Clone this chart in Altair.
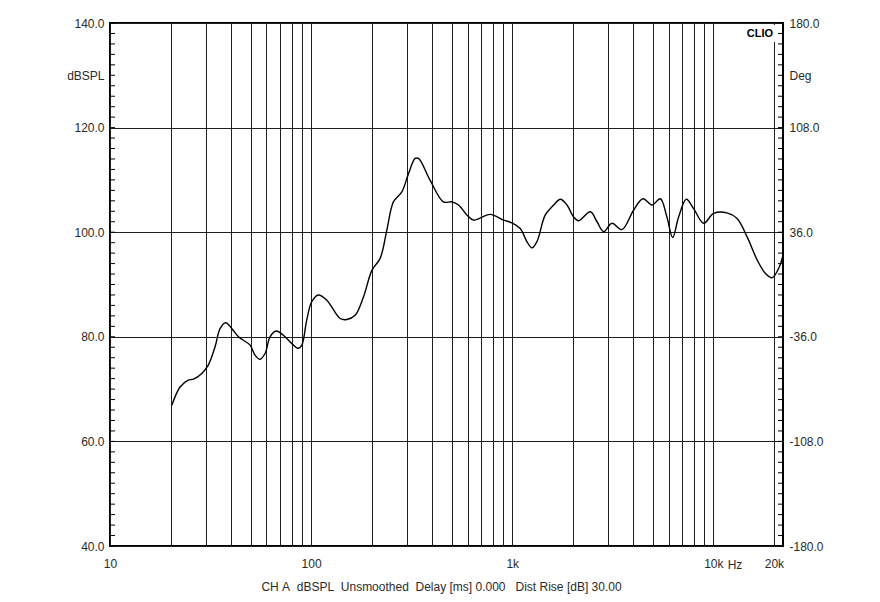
import altair as alt
import pandas as pd

# ---- data ----
freq_hz = [20.3, 22.3, 24.5, 26.0, 28.6, 30.8, 33.3, 35.3, 37.6, 40.3, 43.5, 49.7, 52.6,
           55.7, 59.0, 62.5, 67.0, 72.8, 80.2, 86.4, 89.9, 95.1, 100.7, 108.7, 119.7,
           139.4, 150.5, 165.5, 182.1, 200.5, 220.4, 238, 256.6, 282.5, 305, 329, 342,
           391, 455, 501, 541, 595, 643, 777, 906, 996, 1096, 1183, 1253, 1327, 1460,
           1607, 1734, 1872, 2020, 2140, 2445, 2640, 2847, 3133, 3512, 4011, 4467, 4955,
           5450, 5877, 6277, 6719, 7339, 7982, 8953, 10030, 11690, 13120, 14720, 16510,
           18160, 19600, 21140, 22200]
spl_db = [66.9, 70.4, 71.7, 71.9, 73.0, 74.6, 78.1, 81.6, 82.7, 81.6, 80.0, 78.4, 76.5,
          75.7, 76.8, 80.0, 81.1, 80.3, 78.7, 77.8, 78.4, 83.2, 86.7, 88.0, 87.0,
          83.5, 83.3, 84.1, 87.6, 92.7, 95.0, 100.4, 105.8, 107.7, 111.2, 114.1, 114.1,
          109.9, 105.8, 105.8, 105.2, 103.3, 102.3, 103.4, 102.3, 101.8, 100.7, 98.2, 97.0,
          98.2, 103.3, 105.2, 106.3, 105.2, 102.9, 102.2, 103.9, 102.0, 100.1, 101.7, 100.5,
          104.2, 106.4, 105.2, 106.4, 102.9, 99.0, 102.9, 106.3, 104.5, 101.7, 103.6, 103.7,
          102.6, 99.1, 94.7, 92.1, 91.3, 93.1, 95.6]

x_grid = [10, 20, 30, 40, 50, 60, 70, 80, 90, 100, 200, 300, 400, 500, 600, 700, 800, 900,
          1000, 2000, 3000, 4000, 5000, 6000, 7000, 8000, 9000, 10000, 20000]
x_labels = {10: "10", 100: "100", 1000: "1k", 10000: "10k", 20000: "20k"}
db_ticks = [40, 60, 80, 100, 120, 140]
deg_ticks = [-180, -108, -36, 36, 108, 180]
db_minor = list(range(40, 141, 2))

W, H = 673, 523
FONT = "Liberation Sans"
TXT = "#2a2a2a"

xscale = alt.Scale(type="log", domain=[10, 22200], nice=False)
yscale = alt.Scale(domain=[40, 140], nice=False)
dscale = alt.Scale(domain=[-180, 180], nice=False)

curve_df = pd.DataFrame({"f": freq_hz, "db": spl_db})
minor_df = pd.DataFrame({"db": db_minor, "f": [10] * len(db_minor)})
deg_df = pd.DataFrame({"deg": [-180, 180], "f": [10, 20000]})

label_expr = " : ".join(
    [f"datum.value == {k} ? '{v}'" for k, v in x_labels.items()]) + " : ''"
num_expr = "datum.value < 0 ? '-' + format(-datum.value, '.1f') : format(datum.value, '.1f')"

x_axis = alt.Axis(values=x_grid, labelExpr=label_expr, grid=True, ticks=False,
                  domain=False, gridColor="#1e1e1e", gridWidth=1, gridOpacity=1,
                  labelPadding=12, labelFont=FONT, labelFontSize=12, labelColor=TXT,
                  labelFlush=False, labelOverlap=False,
                  title="CH\u00a0A\u00a0\u00a0dBSPL\u00a0\u00a0Unsmoothed\u00a0\u00a0Delay [ms] 0.000\u00a0\u00a0\u00a0Dist Rise [dB] 30.00",
                  titleFont=FONT, titleFontSize=12, titleFontWeight="normal", titleColor=TXT,
                  titleX=331, titleY=40, titleAlign="center", titleBaseline="middle")

y_axis = alt.Axis(values=db_ticks, labelExpr=num_expr, grid=True, ticks=False, domain=False,
                  gridColor="#1e1e1e", gridWidth=1, gridOpacity=1,
                  labelPadding=6, labelFont=FONT, labelFontSize=12, labelColor=TXT,
                  labelFlush=False,
                  title="dBSPL", titleAngle=0, titleX=-6, titleY=52, titleAlign="right",
                  titleBaseline="middle", titleFont=FONT, titleFontSize=12,
                  titleFontWeight="normal", titleColor=TXT)

curve = alt.Chart(curve_df).mark_line(color="black", strokeWidth=1.4,
                                      interpolate="catmull-rom").encode(
    x=alt.X("f:Q", scale=xscale, axis=x_axis),
    y=alt.Y("db:Q", scale=yscale, axis=y_axis),
)

minor_left = alt.Chart(minor_df).mark_rule(color="black", strokeWidth=1).encode(
    x=alt.value(0), x2=alt.value(5),
    y=alt.Y("db:Q", scale=yscale, axis=y_axis),
)
minor_right = alt.Chart(minor_df).mark_rule(color="black", strokeWidth=1).encode(
    x=alt.value(W - 5), x2=alt.value(W),
    y=alt.Y("db:Q", scale=yscale, axis=y_axis),
)

clio_bg = alt.Chart(pd.DataFrame({"a": [0]})).mark_rect(color="white").encode(
    x=alt.value(W - 40), x2=alt.value(W - 6), y=alt.value(2), y2=alt.value(19))
clio = alt.Chart(pd.DataFrame({"t": ["CLIO"]})).mark_text(
    font=FONT, fontSize=11, fontWeight="bold", color="black", align="right",
    baseline="middle").encode(text="t:N", x=alt.value(W - 10), y=alt.value(11))
hz = alt.Chart(pd.DataFrame({"t": ["Hz"]})).mark_text(
    font=FONT, fontSize=12, color=TXT, align="center", baseline="middle").encode(
    text="t:N", x=alt.value(625), y=alt.value(H + 19))

left = alt.layer(curve, minor_left, minor_right, clio_bg, clio, hz)

right = alt.Chart(deg_df).mark_point(opacity=0).encode(
    x=alt.X("f:Q", scale=xscale, axis=x_axis),
    y=alt.Y("deg:Q", scale=dscale, axis=alt.Axis(
        orient="right", values=deg_ticks, labelExpr=num_expr, grid=False, ticks=False,
        domain=False, labelPadding=6, labelFont=FONT, labelFontSize=12, labelColor=TXT,
        labelFlush=False,
        title="Deg", titleAngle=0, titleX=6, titleY=52, titleAlign="left",
        titleBaseline="middle", titleFont=FONT, titleFontSize=12,
        titleFontWeight="normal", titleColor=TXT)),
)

chart = alt.layer(left, right).resolve_scale(y="independent").properties(
    width=W, height=H,
    autosize=alt.AutoSizeParams(type="none"),
    padding={"left": 102, "top": 15, "right": 88, "bottom": 48},
    background="white",
).configure_view(stroke="black", strokeWidth=2)

chart.save("out.html", embed_options={"renderer": "svg", "actions": False})
